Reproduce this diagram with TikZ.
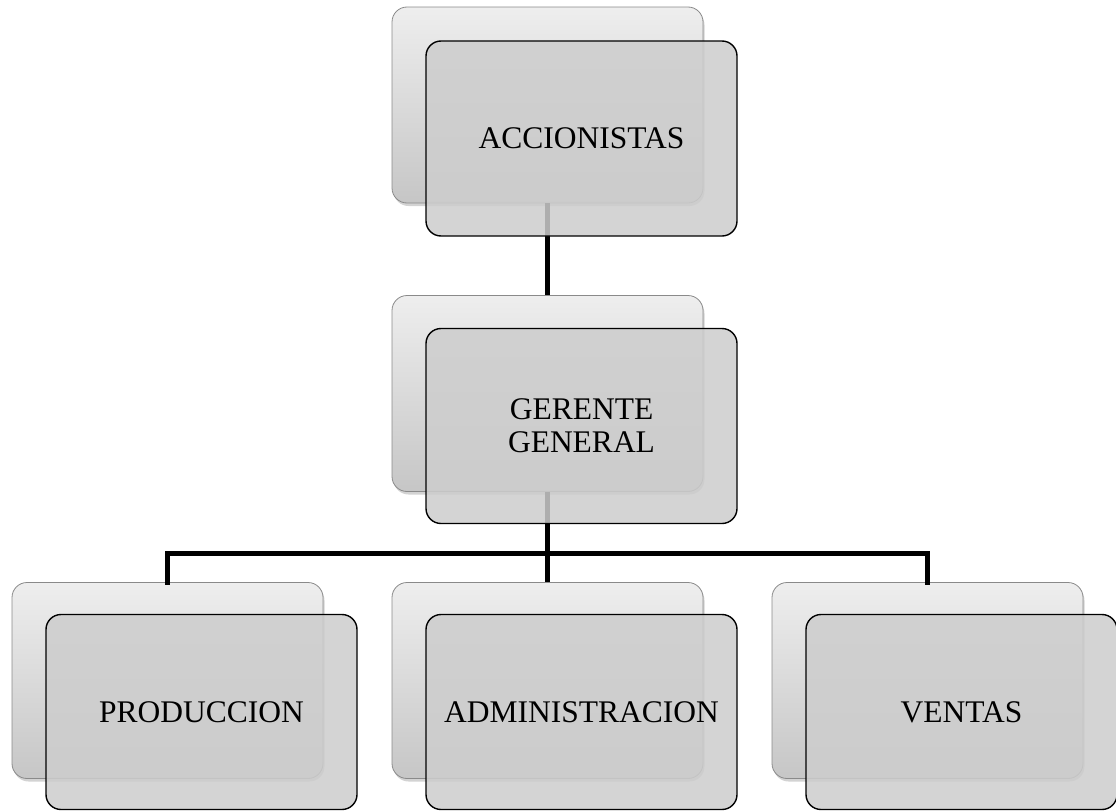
\documentclass[tikz,border=0pt]{standalone}
\usepackage{fontspec}
\setmainfont{Liberation Serif}
\usetikzlibrary{shadows}
\definecolor{backtop}{HTML}{EEEEEE}
\definecolor{backbot}{HTML}{C6C6C6}
\definecolor{backline}{HTML}{8A8A8A}
\definecolor{frontfill}{HTML}{CDCDCD}
\tikzset{
  backbox/.style={rectangle, rounded corners=15pt, minimum width=311pt, minimum height=196pt,
    inner sep=0pt, draw=backline, line width=0.8pt, top color=backtop, bottom color=backbot,
    drop shadow={opacity=0.35, shadow xshift=1.5pt, shadow yshift=-3pt}},
  frontbox/.style={rectangle, rounded corners=15pt, minimum width=311pt, minimum height=195pt,
    inner sep=0pt, draw=black, line width=1.4pt, fill=frontfill, fill opacity=0.85, text opacity=1,
    align=center, font=\fontsize{31.5}{33}\selectfont},
  conn/.style={line width=5pt, black}
}
\begin{document}
\begin{tikzpicture}[x=1pt,y=-1pt]
\useasboundingbox (0,0) rectangle (1116,811);
% back boxes
\node[backbox] (acc-b) at (547.5,105) {};
\node[backbox] (gg-b) at (547.5,393.5) {};
\node[backbox] (prod-b) at (167.5,680.5) {};
\node[backbox] (adm-b) at (547.5,680.5) {};
\node[backbox] (vent-b) at (927.5,680.5) {};
% connectors
\coordinate (j) at (547.5,553);
\draw[conn] (acc-b.south) -- (gg-b.north);
\draw[conn] (gg-b.south) -- (j);
\draw[conn, line cap=rect] (prod-b.north) -- (prod-b.north |- j) -- (vent-b.north |- j) -- (vent-b.north);
\draw[conn] (j) -- (adm-b.north);
% front boxes
\node[frontbox] (acc) at (581.5,138.5) {ACCIONISTAS};
\node[frontbox] (gg) at (581.5,426) {GERENTE\\GENERAL};
\node[frontbox] (prod) at (201.5,712) {PRODUCCION};
\node[frontbox] (adm) at (581.5,712) {ADMINISTRACION};
\node[frontbox] (vent) at (961.5,712) {VENTAS};
\end{tikzpicture}
\end{document}
